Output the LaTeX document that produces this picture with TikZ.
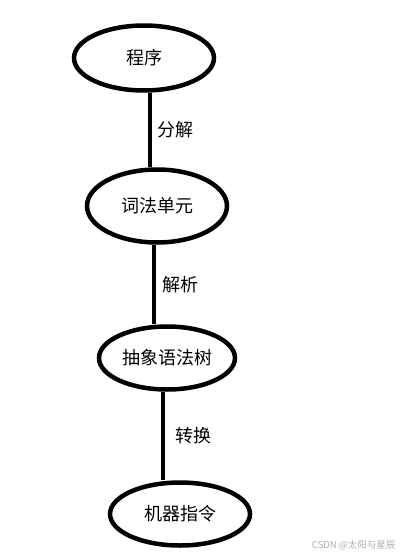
\documentclass[tikz,border=0pt]{standalone}
\usepackage{fontspec}
\setmainfont{Noto Sans CJK SC}
\usetikzlibrary{shapes.geometric}

\begin{document}
\begin{tikzpicture}[x=1pt,y=-1pt,line width=4.5pt,every node/.style={font=\fontsize{18}{21}\selectfont},stage/.style={draw,ellipse,inner sep=0pt,minimum width=140pt,minimum height=65pt}]
			\useasboundingbox (0,0) rectangle (402,556);
			\node[stage]                      (prog) at (144,58)  {程序};
			\node[stage,minimum height=73pt]  (lex)  at (157,206) {词法单元};
			\node[stage,minimum width=136pt,minimum height=63pt] (ast) at (167,358) {抽象语法树};
			\node[stage,minimum height=63pt]  (code) at (180,514) {机器指令};

			\path ([xshift=6pt]prog.south) edge node [right=2pt] {分解} ([xshift=-7pt]lex.north)
				  ([xshift=-3pt]lex.south) edge node [right=3pt] {解析} ([xshift=-13pt]ast.north)
				  ([xshift=-4pt]ast.south) edge node [right=7pt] {转换} ([xshift=-17pt]code.north);

			\node[anchor=east,text=black!32,font=\fontsize{9.5}{11}\selectfont] (mark) at (401,545) {CSDN @太阳与星辰};
\end{tikzpicture}
\end{document}
